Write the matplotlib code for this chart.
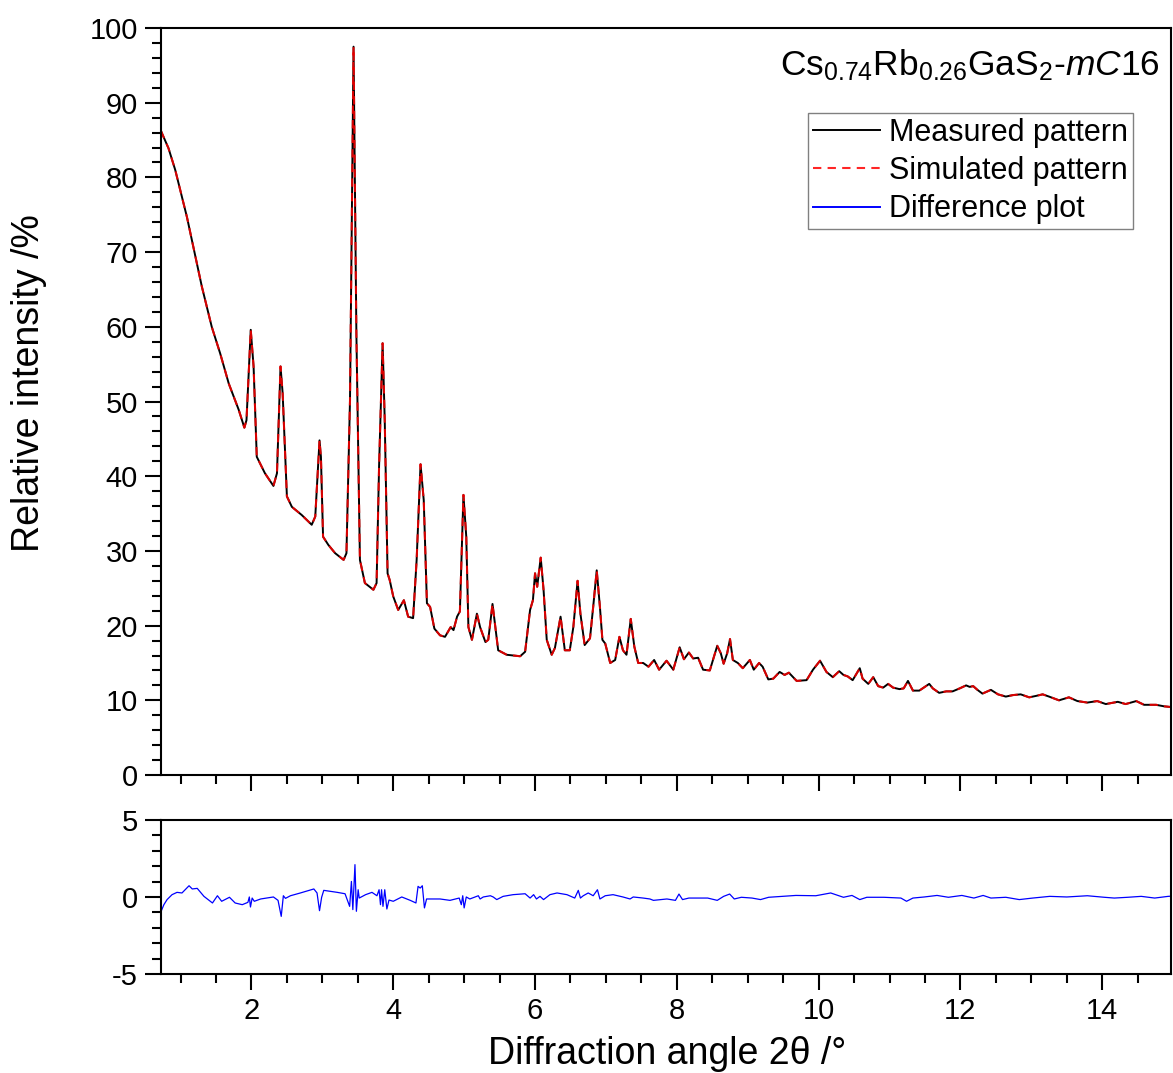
#!/usr/bin/env python3
"""
Diagramme de diffraction : mesure, simulation et courbe de difference
"""
import matplotlib
matplotlib.use('Agg')  # Pour sauvegarder sans afficher
import matplotlib.pyplot as plt
from matplotlib.ticker import MultipleLocator

plt.rcParams['font.family'] = ['Liberation Sans', 'DejaVu Sans']
plt.rcParams['mathtext.fontset'] = 'custom'
plt.rcParams['mathtext.rm'] = 'Liberation Sans'
plt.rcParams['mathtext.it'] = 'Liberation Sans:italic'
plt.rcParams['axes.unicode_minus'] = False

# Angle 2theta (deg) et intensite relative (%)
angle = [
    0.72, 0.83, 0.925, 1.09, 1.21, 1.30, 1.44, 1.56, 1.68, 1.82, 1.90, 1.93,
    1.99, 2.03, 2.075, 2.19, 2.31, 2.36, 2.41, 2.44, 2.50, 2.57, 2.71, 2.85,
    2.90, 2.96, 2.98, 3.01, 3.085, 3.18, 3.30, 3.34, 3.39, 3.44, 3.48, 3.53,
    3.60, 3.72, 3.765, 3.80, 3.85, 3.88, 3.92, 3.95, 4.00, 4.07, 4.15, 4.21,
    4.28, 4.33, 4.385, 4.43, 4.475, 4.52, 4.58, 4.66, 4.73, 4.81, 4.85, 4.90,
    4.94, 4.99, 5.03, 5.06, 5.11, 5.18, 5.225, 5.30, 5.34, 5.40, 5.44, 5.48,
    5.60, 5.79, 5.86, 5.93, 5.97, 6.00, 6.03, 6.08, 6.12, 6.165, 6.235, 6.28,
    6.36, 6.42, 6.49, 6.54, 6.60, 6.64, 6.70, 6.775, 6.82, 6.87, 6.915, 6.95,
    6.99, 7.06, 7.13, 7.19, 7.24, 7.29, 7.35, 7.40, 7.455, 7.525, 7.60, 7.68,
    7.75, 7.855, 7.95, 8.04, 8.10, 8.17, 8.23, 8.30, 8.37, 8.465, 8.57, 8.62,
    8.66, 8.71, 8.75, 8.79, 8.86, 8.93, 9.03, 9.085, 9.16, 9.21, 9.29, 9.36,
    9.45, 9.52, 9.58, 9.69, 9.83, 9.92, 10.02, 10.11, 10.20, 10.29, 10.35, 10.41,
    10.48, 10.58, 10.62, 10.70, 10.77, 10.84, 10.91, 10.98, 11.05, 11.14, 11.20, 11.26,
    11.33, 11.42, 11.56, 11.61, 11.70, 11.80, 11.89, 11.99, 12.08, 12.13, 12.18, 12.24,
    12.31, 12.43, 12.53, 12.64, 12.74, 12.85, 12.97, 13.07, 13.16, 13.25, 13.39, 13.53,
    13.65, 13.79, 13.93, 14.05, 14.22, 14.33, 14.48, 14.59, 14.76, 14.87, 14.97,
]
measured = [
    86.3, 83.9, 81.0, 74.7, 69.4, 65.4, 60.0, 56.4, 52.4, 48.9, 46.5, 47.5,
    59.6, 54.7, 42.6, 40.4, 38.7, 40.4, 54.7, 51.1, 37.3, 35.9, 34.8, 33.5,
    34.6, 44.8, 42.6, 31.9, 30.8, 29.7, 28.8, 29.7, 50.2, 97.5, 59.2, 28.8,
    25.7, 24.8, 25.7, 41.3, 57.8, 47.5, 27.0, 26.1, 23.9, 22.1, 23.4, 21.2,
    21.0, 28.8, 41.6, 36.8, 23.0, 22.5, 19.6, 18.7, 18.5, 19.8, 19.4, 21.2,
    21.9, 37.5, 31.9, 19.8, 18.1, 21.6, 19.8, 17.8, 18.1, 22.9, 19.8, 16.7,
    16.1, 15.9, 16.5, 22.1, 23.4, 27.0, 25.2, 29.1, 24.8, 18.1, 16.1, 17.0,
    21.2, 16.7, 16.7, 19.8, 26.0, 21.6, 17.4, 18.3, 22.5, 27.4, 22.5, 18.1,
    17.6, 15.0, 15.4, 18.5, 16.7, 16.1, 20.9, 17.2, 15.0, 15.0, 14.5, 15.4,
    14.1, 15.3, 14.1, 17.1, 15.5, 16.4, 15.6, 15.7, 14.1, 14.0, 17.3, 16.3,
    14.9, 16.3, 18.2, 15.4, 15.0, 14.3, 15.4, 14.1, 15.0, 14.5, 12.8, 12.9,
    13.8, 13.4, 13.7, 12.6, 12.7, 14.1, 15.3, 13.8, 13.1, 13.9, 13.4, 13.2,
    12.7, 14.3, 12.9, 12.2, 13.1, 11.9, 11.7, 12.2, 11.7, 11.5, 11.6, 12.6,
    11.3, 11.3, 12.2, 11.6, 11.0, 11.2, 11.2, 11.6, 12.0, 11.8, 11.9, 11.4,
    10.9, 11.4, 10.8, 10.5, 10.7, 10.8, 10.4, 10.6, 10.8, 10.5, 10.0, 10.4,
    9.9, 9.7, 9.9, 9.5, 9.8, 9.5, 9.9, 9.4, 9.4, 9.2, 9.1,
]
# La simulation se superpose a la mesure a cette echelle
simulated = list(measured)

# Courbe de difference (panneau du bas)
diff_angle = [
    0.72, 0.765, 0.81, 0.88, 0.95, 1.02, 1.12, 1.165, 1.235, 1.33, 1.45, 1.52,
    1.58, 1.69, 1.77, 1.87, 1.95, 1.97, 1.986, 2.01, 2.04, 2.13, 2.31, 2.375,
    2.42, 2.45, 2.48, 2.55, 2.69, 2.88, 2.925, 2.96, 2.99, 3.02, 3.21, 3.32,
    3.385, 3.41, 3.43, 3.46, 3.48, 3.505, 3.52, 3.61, 3.70, 3.77, 3.80, 3.82,
    3.835, 3.855, 3.88, 3.91, 3.94, 4.00, 4.12, 4.24, 4.32, 4.35, 4.38, 4.41,
    4.44, 4.47, 4.66, 4.80, 4.93, 4.96, 4.98, 5.00, 5.03, 5.08, 5.155, 5.20,
    5.225, 5.27, 5.37, 5.41, 5.46, 5.55, 5.69, 5.86, 5.93, 5.98, 6.02, 6.07,
    6.12, 6.21, 6.31, 6.45, 6.56, 6.61, 6.64, 6.68, 6.75, 6.82, 6.88, 6.915,
    6.99, 7.10, 7.24, 7.34, 7.385, 7.525, 7.62, 7.67, 7.86, 7.98, 8.03, 8.08,
    8.17, 8.435, 8.57, 8.66, 8.745, 8.81, 8.91, 9.06, 9.18, 9.295, 9.49, 9.68,
    9.96, 10.17, 10.35, 10.47, 10.58, 10.68, 10.92, 11.16, 11.24, 11.33, 11.49, 11.67,
    11.83, 12.02, 12.19, 12.32, 12.43, 12.64, 12.83, 13.02, 13.26, 13.50, 13.79, 14.03,
    14.17, 14.36, 14.55, 14.74, 14.93, 14.97,
]
difference = [
    -1.0, -0.5, -0.17, 0.15, 0.3, 0.26, 0.73, 0.52, 0.56, 0.04, -0.39, 0.08,
    -0.28, -0.02, -0.39, -0.5, -0.35, 0.0, -0.65, -0.07, -0.28, -0.13, 0.0, -0.22,
    -1.26, 0.08, -0.09, 0.08, 0.26, 0.52, 0.26, -0.89, -0.02, 0.43, 0.3, 0.21,
    -0.61, 1.01, -0.82, 2.1, -0.93, 0.47, -0.07, 0.15, 0.3, 0.08, 0.47, -0.5,
    0.47, -0.61, 0.47, -0.78, -0.2, -0.28, 0.0, -0.22, -0.39, 0.69, 0.58, 0.73,
    -0.71, -0.13, -0.13, -0.22, -0.07, -0.5, 0.08, -0.71, 0.0, -0.13, 0.0, 0.08,
    -0.13, 0.0, 0.08, 0.0, -0.17, 0.04, 0.15, 0.21, -0.07, 0.15, -0.13, 0.04,
    -0.17, 0.15, 0.26, 0.15, -0.07, 0.43, -0.07, 0.08, 0.26, 0.08, 0.47, -0.13,
    0.08, 0.15, 0.0, -0.13, 0.0, -0.07, -0.13, -0.22, -0.13, -0.22, 0.19, -0.17,
    -0.07, -0.07, -0.22, 0.04, 0.19, -0.13, -0.02, -0.07, -0.17, -0.02, 0.04, 0.1,
    0.08, 0.26, -0.02, 0.1, -0.17, -0.02, -0.02, -0.07, -0.28, -0.07, 0.0, 0.1,
    -0.02, 0.1, -0.07, 0.1, -0.07, -0.02, -0.17, -0.07, 0.04, 0.0, 0.08, -0.02,
    -0.07, -0.02, 0.04, -0.07, 0.04, 0.05,
]

x_min, x_max = 0.72, 14.97


def style_axis(ax, y_major, y_minor):
    """Cadre epais et graduations vers l'exterieur"""
    for spine in ax.spines.values():
        spine.set_linewidth(1.5)
    ax.set_xlim(x_min, x_max)
    ax.xaxis.set_major_locator(MultipleLocator(2))
    ax.xaxis.set_minor_locator(MultipleLocator(0.5))
    ax.yaxis.set_major_locator(MultipleLocator(y_major))
    ax.yaxis.set_minor_locator(MultipleLocator(y_minor))
    ax.tick_params(which='both', direction='out', width=1.5, top=False, right=False,
                   labelsize=21)
    ax.tick_params(which='major', length=11.5, pad=5)
    ax.tick_params(which='minor', length=6.5)


fig = plt.figure(figsize=(11.73, 10.73), dpi=100)
ax_top = fig.add_axes([0.137, 0.2777, 0.8613, 0.6962])
ax_bot = fig.add_axes([0.137, 0.0923, 0.8613, 0.1435])

# Panneau principal
ax_top.plot(angle, measured, color='black', linewidth=1.4, label='Measured pattern')
ax_top.plot(angle, simulated, color='#ff0000', linewidth=1.5, linestyle=(0, (4, 3)),
            alpha=0.85, label='Simulated pattern')
ax_top.plot([], [], color='#0000ff', linewidth=1.4, label='Difference plot')
ax_top.set_ylim(0, 100)
style_axis(ax_top, 10, 2)
ax_top.tick_params(labelbottom=False)

ax_top.text(0.989, 0.974, r'Cs$_{0.74}$Rb$_{0.26}$GaS$_{2}$-$mC$16',
            transform=ax_top.transAxes, ha='right', va='top', fontsize=25.5)

leg = ax_top.legend(loc='upper right', bbox_to_anchor=(0.962, 0.886), borderaxespad=0,
                    fontsize=22, handlelength=2.2, handletextpad=0.3, labelspacing=0.27,
                    borderpad=0.15, fancybox=False, framealpha=1)
leg.get_frame().set_edgecolor('#808080')
leg.get_frame().set_linewidth(1.0)

# Panneau de difference
ax_bot.plot(diff_angle, difference, color='#0000ff', linewidth=0.9)
ax_bot.set_ylim(-5, 5)
style_axis(ax_bot, 5, 1)

fig.text(29 / 1173, 1 - 383 / 1073, 'Relative intensity /%', rotation=90,
         ha='center', va='center', fontsize=27)
fig.text(667 / 1173, 1 - 1054 / 1073, 'Diffraction angle 2\u03b8 /\u00b0',
         ha='center', va='center', fontsize=27)

fig.savefig('out.png', dpi=100)
plt.close(fig)
